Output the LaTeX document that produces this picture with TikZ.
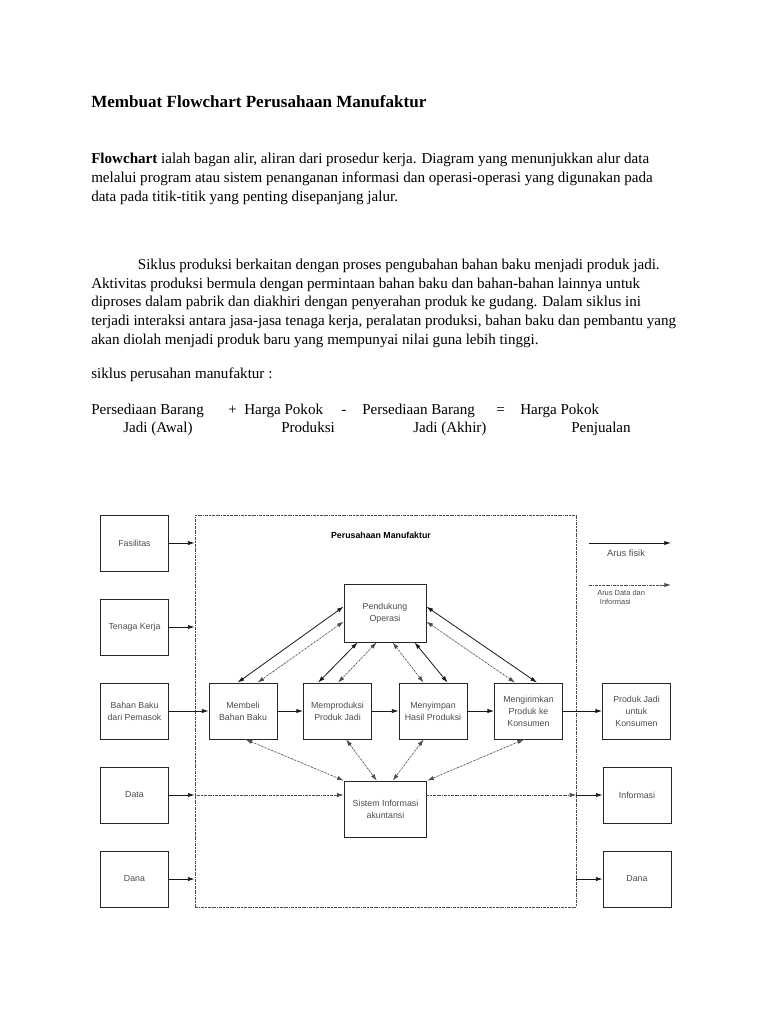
\documentclass[tikz,border=0pt]{standalone}
\usepackage{fontspec}
\setmainfont{Liberation Serif}
\setsansfont{Liberation Sans}
\usetikzlibrary{calc,arrows.meta}

\begin{document}
\begin{tikzpicture}[x=0.75pt,y=-0.75pt,
    >={Latex[length=5pt,width=3.2pt]},
    teks/.style={anchor=base west,inner sep=0pt,align=left,font=\fontsize{11.3}{14}\selectfont},
    kotak/.style={draw=black!85,line width=0.6pt,minimum width=51pt,minimum height=42pt,inner sep=1pt,
        align=center,text=black!70,font=\sffamily\fontsize{6.6}{9}\selectfont},
    fisik/.style={->,line width=0.6pt,black!90},
    datainfo/.style={line width=0.55pt,black!70,dash pattern=on 1.2pt off 0.6pt on 0.3pt off 0.6pt},
]
\useasboundingbox (0,0) rectangle (768,1024);

\node[teks,font=\bfseries\fontsize{12.8}{16}\selectfont] (judul) at (91,108) {Membuat Flowchart Perusahaan Manufaktur};

% base = baris terakhir
\node[teks] (par1) at (91,201) {\textbf{Flowchart} ialah bagan alir, aliran dari prosedur kerja. Diagram yang menunjukkan alur data\\
melalui program atau sistem penanganan informasi dan operasi-operasi yang digunakan pada\\
data pada titik-titik yang penting disepanjang jalur.};

\node[teks] (par2) at (91,344) {\hspace*{35pt}Siklus produksi berkaitan dengan proses pengubahan bahan baku menjadi produk jadi.\\
Aktivitas produksi bermula dengan permintaan bahan baku dan bahan-bahan lainnya untuk\\
diproses dalam pabrik dan diakhiri dengan penyerahan produk ke gudang. Dalam siklus ini\\
terjadi interaksi antara jasa-jasa tenaga kerja, peralatan produksi, bahan baku dan pembantu yang\\
akan diolah menjadi produk baru yang mempunyai nilai guna lebih tinggi.};

\node[teks] (par3) at (91,378) {siklus perusahan manufaktur :};

\node[teks] (r1) at (91,414) {Persediaan Barang};
\node[teks] (r2) at (228,414) {+};
\node[teks] (r3) at (244,414) {Harga Pokok};
\node[teks] (r4) at (341,414) {-};
\node[teks] (r5) at (362,414) {Persediaan Barang};
\node[teks] (r6) at (496,414) {=};
\node[teks] (r7) at (520,414) {Harga Pokok};
\node[teks] (r8) at (123,432) {Jadi (Awal)};
\node[teks] (r9) at (281,432) {Produksi};
\node[teks] (r10) at (413,432) {Jadi (Akhir)};
\node[teks] (r11) at (571,432) {Penjualan};

% batas perusahaan
\node[draw=black!70,line width=0.6pt,dash pattern=on 1.2pt off 0.6pt on 0.3pt off 0.6pt,
    minimum width=285.75pt,minimum height=294pt,inner sep=0pt] (batas) at (385.5,711) {};
\node[font=\sffamily\bfseries\fontsize{6.6}{8}\selectfont,inner sep=0pt] (judulpm) at (381,535) {Perusahaan Manufaktur};

\node[kotak] (fas) at (134.5,543) {Fasilitas};
\node[kotak] (tk) at (134.5,627) {Tenaga Kerja};
\node[kotak] (bb) at (134.5,711) {Bahan Baku\\dari Pemasok};
\node[kotak] (data) at (134.5,795) {Data};
\node[kotak] (danamasuk) at (134.5,879) {Dana};

\node[kotak] (beli) at (243,711) {Membeli\\Bahan Baku};
\node[kotak] (prod) at (337.5,711) {Memproduksi\\Produk Jadi};
\node[kotak] (simpan) at (433,711) {Menyimpan\\Hasil Produksi};
\node[kotak] (kirim) at (528.5,711) {Mengirimkan\\Produk ke\\Konsumen};
\node[kotak] (pjk) at (636.5,711) {Produk Jadi\\untuk\\Konsumen};
\node[kotak] (info) at (637,795) {Informasi};
\node[kotak] (danakeluar) at (637,879) {Dana};

\node[kotak,minimum width=61.5pt,minimum height=43.5pt] (pend) at (385,613) {Pendukung\\Operasi};
\node[kotak,minimum width=62pt,minimum height=42pt] (sia) at (385.5,809) {Sistem Informasi\\akuntansi};

% legenda
\coordinate (lf1) at (589,543);
\coordinate (lf2) at (671,543);
\coordinate (ld1) at (589,585);
\coordinate (ld2) at (671,585);
\draw[fisik] (lf1) -- (lf2);
\draw[datainfo,->] (ld1) -- (ld2);
\node[font=\sffamily\fontsize{7}{8}\selectfont,text=black!70,inner sep=0pt] (arusfisik) at (626,553) {Arus fisik};
\node[font=\sffamily\fontsize{5.6}{6.8}\selectfont,text=black!70,inner sep=0pt,align=left,anchor=north west] (arusdata) at (597,590) {Arus Data dan\\\hspace*{2pt}Informasi};

% masukan dan keluaran
\draw[fisik] (fas.east) -- (fas.east -| batas.west);
\draw[fisik] (tk.east) -- (tk.east -| batas.west);
\draw[fisik] (bb) -- (beli);
\draw[fisik] (data.east) -- (data.east -| batas.west);
\draw[datainfo,->] (data.east -| batas.west) -- (data.east -| sia.west);
\draw[datainfo,->] (data.east -| sia.east) -- (data.east -| batas.east);
\draw[fisik] (info.west -| batas.east) -- (info.west);
\draw[fisik] (danamasuk.east) -- (danamasuk.east -| batas.west);
\draw[fisik] (danakeluar.west -| batas.east) -- (danakeluar.west);

\draw[fisik] (beli) -- (prod);
\draw[fisik] (prod) -- (simpan);
\draw[fisik] (simpan) -- (kirim);
\draw[fisik] (kirim) -- (pjk);

% pendukung operasi
\draw[fisik,<->] ($(pend.north west)+(0,23)$) -- ($(beli.north west)+(29,0)$);
\draw[datainfo,<->] ($(pend.north west)+(0,38)$) -- ($(beli.north west)+(49,0)$);
\draw[fisik,<->] ($(pend.south west)+(14,0)$) -- ($(prod.north west)+(15,0)$);
\draw[datainfo,<->] ($(pend.south west)+(33,0)$) -- ($(prod.north west)+(35,0)$);
\draw[datainfo,<->] ($(pend.south west)+(49,0)$) -- ($(simpan.north west)+(25,0)$);
\draw[fisik,<->] ($(pend.south west)+(71,0)$) -- ($(simpan.north west)+(49,0)$);
\draw[fisik,<->] ($(pend.north east)+(0,23)$) -- ($(kirim.north west)+(43,0)$);
\draw[datainfo,<->] ($(pend.north east)+(0,38)$) -- ($(kirim.north west)+(21,0)$);

% sistem informasi akuntansi
\draw[datainfo,<->] ($(beli.south west)+(37,0)$) -- (sia.north west);
\draw[datainfo,<->] ($(prod.south west)+(43,0)$) -- ($(sia.north west)+(33,0)$);
\draw[datainfo,<->] ($(simpan.south west)+(25,0)$) -- ($(sia.north west)+(49,0)$);
\draw[datainfo,<->] ($(kirim.south west)+(30,0)$) -- (sia.north east);
\end{tikzpicture}
\end{document}
